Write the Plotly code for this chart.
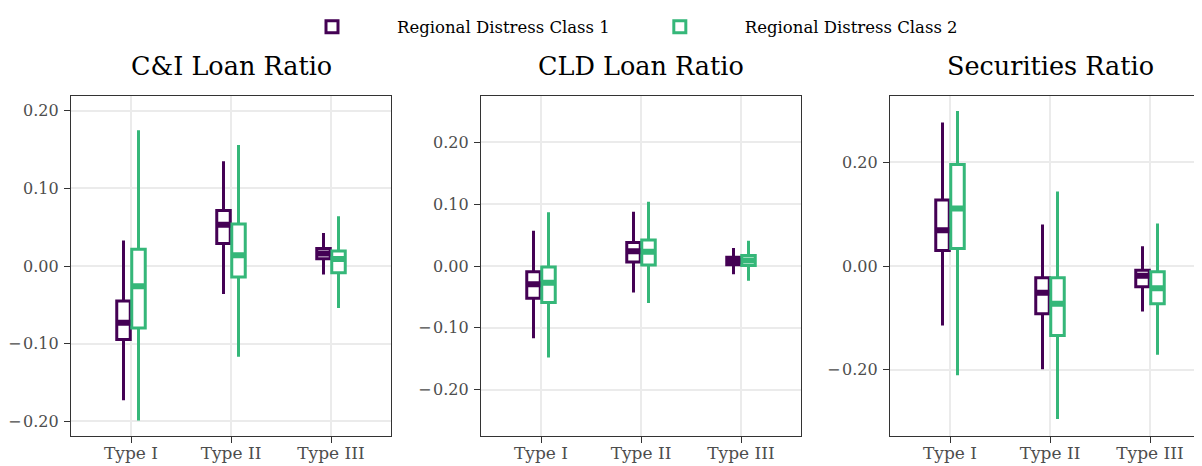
import plotly.graph_objects as go

categories = ["Type I", "Type II", "Type III"]
class_names = ["Regional Distress Class 1", "Regional Distress Class 2"]
panel_titles = ["C&I Loan Ratio", "CLD Loan Ratio", "Securities Ratio"]

# y tick values and labels per panel
ci_ticks = [-0.2, -0.1, 0.0, 0.1, 0.2]
ci_labels = ["\u2212\u200a0.20", "\u2212\u200a0.10", "0.00", "0.10", "0.20"]
cld_ticks = [-0.2, -0.1, 0.0, 0.1, 0.2]
cld_labels = ["\u2212\u200a0.20", "\u2212\u200a0.10", "0.00", "0.10", "0.20"]
sec_ticks = [-0.2, 0.0, 0.2]
sec_labels = ["\u2212\u200a0.20", "0.00", "0.20"]

# C&I Loan Ratio
ci_c1_lower = [-0.173, -0.036, -0.011]
ci_c1_q1 = [-0.0946, 0.029, 0.0095]
ci_c1_med = [-0.073, 0.053, 0.016]
ci_c1_q3 = [-0.045, 0.0715, 0.0224]
ci_c1_upper = [0.033, 0.135, 0.0426]
ci_c2_lower = [-0.199, -0.117, -0.054]
ci_c2_q1 = [-0.080, -0.0142, -0.0086]
ci_c2_med = [-0.026, 0.0138, 0.0090]
ci_c2_q3 = [0.0215, 0.054, 0.0194]
ci_c2_upper = [0.175, 0.156, 0.064]

# CLD Loan Ratio
cld_c1_lower = [-0.117, -0.043, -0.0134]
cld_c1_q1 = [-0.052, 0.0065, 0.002]
cld_c1_med = [-0.0296, 0.024, 0.008]
cld_c1_q3 = [-0.0092, 0.038, 0.014]
cld_c1_upper = [0.057, 0.0876, 0.029]
cld_c2_lower = [-0.148, -0.060, -0.0237]
cld_c2_q1 = [-0.059, 0.0016, 0.001]
cld_c2_med = [-0.027, 0.023, 0.009]
cld_c2_q3 = [-0.0016, 0.042, 0.017]
cld_c2_upper = [0.087, 0.104, 0.041]

# Securities Ratio
sec_c1_lower = [-0.115, -0.199, -0.0876]
sec_c1_q1 = [0.030, -0.092, -0.040]
sec_c1_med = [0.069, -0.0515, -0.019]
sec_c1_q3 = [0.1275, -0.0225, -0.008]
sec_c1_upper = [0.277, 0.080, 0.038]
sec_c2_lower = [-0.211, -0.295, -0.171]
sec_c2_q1 = [0.0336, -0.134, -0.073]
sec_c2_med = [0.111, -0.0727, -0.043]
sec_c2_q3 = [0.196, -0.0225, -0.011]
sec_c2_upper = [0.299, 0.1437, 0.082]

panels = [
    [(ci_c1_lower, ci_c1_q1, ci_c1_med, ci_c1_q3, ci_c1_upper),
     (ci_c2_lower, ci_c2_q1, ci_c2_med, ci_c2_q3, ci_c2_upper)],
    [(cld_c1_lower, cld_c1_q1, cld_c1_med, cld_c1_q3, cld_c1_upper),
     (cld_c2_lower, cld_c2_q1, cld_c2_med, cld_c2_q3, cld_c2_upper)],
    [(sec_c1_lower, sec_c1_q1, sec_c1_med, sec_c1_q3, sec_c1_upper),
     (sec_c2_lower, sec_c2_q1, sec_c2_med, sec_c2_q3, sec_c2_upper)],
]
y_tickvals = [ci_ticks, cld_ticks, sec_ticks]
y_ticktext = [ci_labels, cld_labels, sec_labels]

colors = ["#440154", "#35B779"]
FONT = "DejaVu Serif"
# the page body has an 8px margin, so the figure is 8px smaller than the window
W, H = 1194, 458

fig = go.Figure()
for p, series in enumerate(panels):
    xa = "x" if p == 0 else f"x{p+1}"
    ya = "y" if p == 0 else f"y{p+1}"
    for k, (lo, q1, med, q3, up) in enumerate(series):
        fig.add_trace(go.Box(
            x=categories, lowerfence=lo, q1=q1, median=med, q3=q3, upperfence=up,
            name=class_names[k], legendgroup=class_names[k], showlegend=(p == 0),
            offsetgroup=str(k), line=dict(color=colors[k], width=3),
            fillcolor="white", whiskerwidth=0, boxpoints=False,
            xaxis=xa, yaxis=ya, hoverinfo="skip",
        ))
    # thicker median bands (ggplot fatten) drawn from the same medians
    for k, (lo, q1, med, q3, up) in enumerate(series):
        fig.add_trace(go.Box(
            x=categories, lowerfence=med, q1=med, median=med, q3=med, upperfence=med,
            name=class_names[k], legendgroup=class_names[k], showlegend=False,
            offsetgroup=str(k), line=dict(color=colors[k], width=6),
            fillcolor=colors[k], whiskerwidth=0, boxpoints=False,
            xaxis=xa, yaxis=ya, hoverinfo="skip",
        ))

px_domains = [(63, 383), (473, 793), (882, 1194)]
x_ranges = [[-0.6, 2.6], [-0.6, 2.6], [-0.6, 2.52]]
y_ranges = [[-0.219, 0.219], [-0.275, 0.275], [-0.328, 0.328]]

axis_common = dict(
    showline=True, linecolor="#333333", linewidth=1.3,
    ticks="outside", ticklen=6, tickwidth=1.3, tickcolor="#333333",
    showgrid=True, gridcolor="#EBEBEB", gridwidth=1.7, zeroline=False,
    automargin=False,
)
plot_top, plot_bottom = 88, 428
ph = plot_bottom - plot_top
for p in range(3):
    sfx = "" if p == 0 else str(p + 1)
    d0, d1 = px_domains[p]
    fig.layout["xaxis" + sfx] = dict(
        axis_common, type="category", categoryorder="array", categoryarray=categories,
        domain=[d0 / W, d1 / W], range=x_ranges[p], mirror=True,
        anchor="y" + sfx, ticklabelstandoff=-5,
        tickfont=dict(family=FONT, size=17, color="#4D4D4D"),
    )
    fig.layout["yaxis" + sfx] = dict(
        axis_common, domain=[0, 1], range=y_ranges[p],
        tickmode="array", tickvals=y_tickvals[p], ticktext=y_ticktext[p],
        mirror=(p < 2), anchor="x" + sfx, ticklabelstandoff=2,
        tickfont=dict(family=FONT, size=16, color="#4D4D4D"),
    )
    fig.add_annotation(
        text=panel_titles[p], xref="x" + sfx, yref="paper", x=1,
        y=(plot_bottom - 58) / ph, yanchor="middle",
        showarrow=False, font=dict(family=FONT, size=25.5, color="black"),
    )

fig.update_layout(
    width=W, height=H, autosize=False,
    margin=dict(l=0, r=0, t=plot_top, b=H - plot_bottom, pad=0, autoexpand=False),
    paper_bgcolor="white", plot_bgcolor="white",
    boxmode="group", boxgap=0.7, boxgroupgap=0.1,
    showlegend=True,
    legend=dict(
        orientation="h", x=607 / W, xanchor="center",
        y=(plot_bottom - 19) / ph, yanchor="middle",
        font=dict(family=FONT, size=16.5, color="black"),
        itemwidth=120, bgcolor="rgba(0,0,0,0)",
    ),
    font=dict(family=FONT),
)

fig.write_html("out.html")
